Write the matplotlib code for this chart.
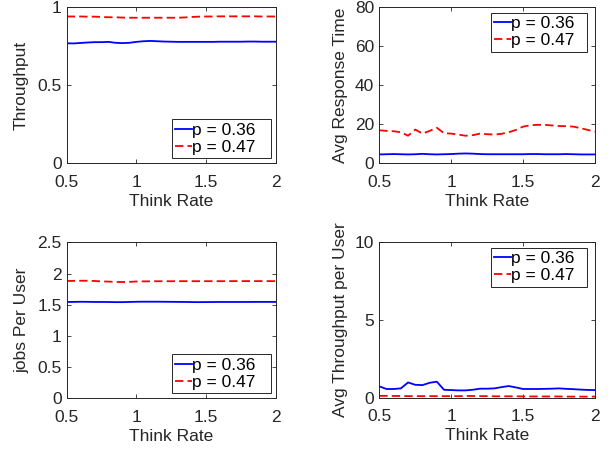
import numpy as np
import matplotlib
matplotlib.use("Agg")
import matplotlib.pyplot as plt

plt.rcParams['font.family'] = ['Liberation Sans', 'DejaVu Sans']
plt.rcParams['lines.scale_dashes'] = False

think_rate = np.round(np.arange(0.5, 2.0001, 0.05), 2)

labels = ["p = 0.36", "p = 0.47"]

throughput_036 = [0.769, 0.768, 0.771, 0.774, 0.776, 0.776, 0.778, 0.772, 0.770, 0.772,
                  0.778, 0.782, 0.784, 0.782, 0.780, 0.779, 0.778, 0.778, 0.778, 0.778,
                  0.778, 0.778, 0.779, 0.779, 0.779, 0.779, 0.780, 0.780, 0.779, 0.779, 0.779]
throughput_047 = [0.941, 0.941, 0.941, 0.940, 0.940, 0.938, 0.936, 0.936, 0.934, 0.933,
                  0.933, 0.933, 0.933, 0.933, 0.933, 0.933, 0.933, 0.935, 0.938, 0.940,
                  0.941, 0.941, 0.942, 0.942, 0.942, 0.942, 0.942, 0.942, 0.941, 0.941, 0.941]

resp_036 = [4.4, 4.5, 4.6, 4.5, 4.4, 4.5, 4.7, 4.5, 4.4, 4.5,
            4.6, 4.8, 4.9, 4.8, 4.6, 4.5, 4.5, 4.5, 4.5, 4.5,
            4.5, 4.6, 4.6, 4.5, 4.5, 4.5, 4.6, 4.5, 4.4, 4.4, 4.4]
resp_047 = [16.8, 16.5, 16.3, 15.8, 14.0, 17.2, 15.1, 16.5, 18.1, 15.3,
            15.1, 14.6, 14.0, 14.3, 15.1, 14.8, 14.6, 15.0, 15.8, 17.0,
            18.7, 19.4, 19.6, 19.6, 19.3, 19.0, 18.9, 18.7, 17.9, 17.0, 16.1]

jobs_036 = [1.543, 1.545, 1.547, 1.546, 1.544, 1.544, 1.543, 1.541, 1.541, 1.544,
            1.547, 1.548, 1.548, 1.548, 1.547, 1.546, 1.545, 1.544, 1.542, 1.541,
            1.542, 1.543, 1.544, 1.544, 1.544, 1.544, 1.544, 1.545, 1.545, 1.545, 1.545]
jobs_047 = [1.880, 1.882, 1.884, 1.884, 1.880, 1.874, 1.870, 1.866, 1.863, 1.866,
            1.872, 1.874, 1.874, 1.876, 1.876, 1.876, 1.877, 1.877, 1.877, 1.877,
            1.877, 1.877, 1.877, 1.877, 1.878, 1.878, 1.878, 1.878, 1.878, 1.878, 1.878]

tpu_036 = [0.73, 0.56, 0.56, 0.60, 0.98, 0.83, 0.81, 0.96, 1.03, 0.51,
           0.49, 0.47, 0.47, 0.51, 0.58, 0.58, 0.60, 0.68, 0.75, 0.66,
           0.56, 0.56, 0.56, 0.57, 0.58, 0.60, 0.57, 0.55, 0.52, 0.50, 0.49]
tpu_047 = [0.12, 0.12, 0.11, 0.11, 0.10, 0.10, 0.10, 0.10, 0.10, 0.10,
           0.10, 0.10, 0.11, 0.11, 0.10, 0.10, 0.09, 0.09, 0.09, 0.09,
           0.08, 0.08, 0.08, 0.08, 0.08, 0.08, 0.07, 0.07, 0.07, 0.07, 0.07]

x_ticks = [0.5, 1, 1.5, 2]
x_ticklabels = ["0.5", "1", "1.5", "2"]

panels = [
    dict(y1=throughput_036, y2=throughput_047, ylabel="Throughput",
         yticks=[0, 0.5, 1], yticklabels=["0", "0.5", "1"], ylim=(0, 1),
         rect=(66.7, 7.3, 275.7, 163.0), labx=-0.183, leg=(0.502, 0.030, 0.474, 0.283), loc='lower left'),
    dict(y1=resp_036, y2=resp_047, ylabel="Avg Response Time",
         yticks=[0, 20, 40, 60, 80], yticklabels=["0", "20", "40", "60", "80"], ylim=(0, 80),
         rect=(379.3, 7.3, 595.0, 163.0), labx=-0.143, leg=(0.516, 0.683, 0.446, 0.282), loc='upper left'),
    dict(y1=jobs_036, y2=jobs_047, ylabel="jobs Per User",
         yticks=[0, 0.5, 1, 1.5, 2, 2.5], yticklabels=["0", "0.5", "1", "1.5", "2", "2.5"], ylim=(0, 2.5),
         rect=(66.7, 242.3, 275.7, 398.3), labx=-0.176, leg=(0.502, 0.032, 0.474, 0.282), loc='lower left'),
    dict(y1=tpu_036, y2=tpu_047, ylabel="Avg Throughput per User",
         yticks=[0, 5, 10], yticklabels=["0", "5", "10"], ylim=(0, 10),
         rect=(379.3, 242.3, 595.0, 397.7), labx=-0.143, leg=(0.516, 0.682, 0.446, 0.283), loc='upper left'),
]

W, H = 611, 449
fig = plt.figure(figsize=(W / 100, H / 100), dpi=100)
fc = '#262626'
fs = 12.5

for p in panels:
    x0, y0, x1, y1 = p['rect']
    ax = fig.add_axes([x0 / W, 1 - y1 / H, (x1 - x0) / W, (y1 - y0) / H])
    ax.plot(think_rate, p['y1'], color='#0000ff', lw=1.3, label=labels[0])
    ax.plot(think_rate, p['y2'], color='#ff0000', lw=1.3, dashes=(6, 3), label=labels[1])
    ax.set_xlim(0.5, 2)
    ax.set_ylim(*p['ylim'])
    ax.set_xticks(x_ticks)
    ax.set_xticklabels(x_ticklabels)
    ax.set_yticks(p['yticks'])
    ax.set_yticklabels(p['yticklabels'])
    ax.tick_params(direction='in', length=3, width=0.6, colors=fc, labelsize=fs,
                   top=True, right=True)
    ax.tick_params(axis='x', pad=8.3)
    ax.tick_params(axis='y', pad=3.6)
    for s in ax.spines.values():
        s.set_color(fc)
        s.set_linewidth(0.7)
    ax.set_xlabel("Think Rate", fontsize=fs, color=fc, labelpad=3)
    ax.set_ylabel(p['ylabel'], fontsize=fs, color=fc)
    ax.yaxis.set_label_coords(p['labx'], 0.5)
    leg = ax.legend(loc=p['loc'], bbox_to_anchor=p['leg'], mode='expand', borderaxespad=0,
                    fontsize=fs, handlelength=1.0, handletextpad=0.0, borderpad=0.2,
                    labelspacing=0.1, fancybox=False, framealpha=1, edgecolor=fc)
    leg.get_frame().set_linewidth(0.7)

fig.savefig("out.png", dpi=100)
